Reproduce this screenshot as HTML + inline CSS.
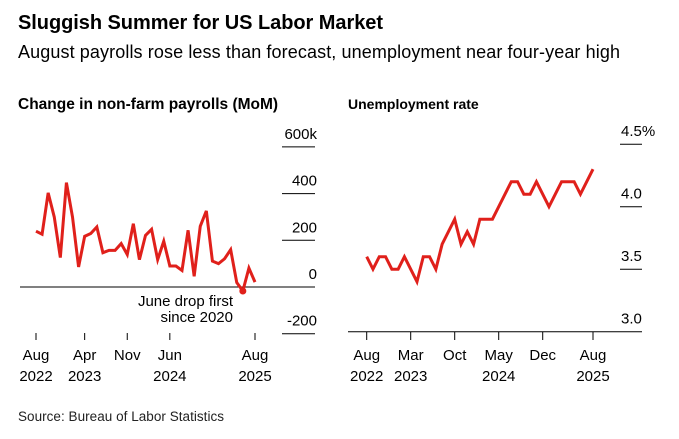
<!DOCTYPE html>
<html><head><meta charset="utf-8"><style>
body{margin:0;background:#fff;width:679px;height:434px;overflow:hidden;font-family:"Liberation Sans",Arial,sans-serif}
</style></head><body>
<svg width="679" height="434" style="font-family:'Liberation Sans',Arial,sans-serif">
<text x="18" y="29" font-size="20" font-weight="bold" fill="#000" textLength="365">Sluggish Summer for US Labor Market</text>
<text x="18" y="58" font-size="18" fill="#000" textLength="602">August payrolls rose less than forecast, unemployment near four-year high</text>
<text x="18" y="109" font-size="15.5" font-weight="bold">Change in non-farm payrolls (MoM)</text>
<text x="348" y="109" font-size="14" font-weight="bold">Unemployment rate</text>
<g id="left"></g>
<g id="right"></g>
<text x="18" y="421" font-size="13.5" fill="#222" textLength="206">Source: Bureau of Labor Statistics</text>
</svg>
<script>
const payrolls=[239,226,403,300,126,447,300,86,217,229,257,147,157,157,186,139,271,117,221,247,117,196,90,90,71,243,46,260,326,111,100,121,160,19,-17,81,21];
const payTicks=[600,400,200,0,-200];
const payTickLabels=["600k","400","200","0","-200"];
const payXIdx=[0,8,15,22,36];
const payXLabels=[["Aug","2022"],["Apr","2023"],["Nov",""],["Jun","2024"],["Aug","2025"]];
const unemp=[3.6,3.5,3.6,3.6,3.5,3.5,3.6,3.5,3.4,3.6,3.6,3.5,3.7,3.8,3.9,3.7,3.8,3.7,3.9,3.9,3.9,4.0,4.1,4.2,4.2,4.1,4.1,4.2,4.1,4.0,4.1,4.2,4.2,4.2,4.1,4.2,4.3];
const unTicks=[4.5,4.0,3.5,3.0];
const unTickLabels=["4.5%","4.0","3.5","3.0"];
const unXIdx=[0,7,14,21,28,36];
const unXLabels=[["Aug","2022"],["Mar","2023"],["Oct",""],["May","2024"],["Dec",""],["Aug","2025"]];
const NS="http://www.w3.org/2000/svg";
function mk(p,t,a){const e=document.createElementNS(NS,t);for(const k in a)e.setAttribute(k,a[k]);p.appendChild(e);return e;}
// left
const L=document.getElementById('left');
const lx=i=>36+i*(219/36), ly=v=>287-v*(46.7/200);
payTicks.forEach((t,i)=>{
 const g=mk(L,'line',{x1:282,x2:315,y1:ly(t),y2:ly(t),stroke:'#000','stroke-width':1});
 
 
 const tx=mk(L,'text',{x:317,y:ly(t)-8,'font-size':15,'text-anchor':'end'});tx.textContent=payTickLabels[i];
 
 
});
const zl=mk(L,'line',{x1:20,x2:282,y1:ly(0),y2:ly(0),stroke:'#000','stroke-width':1});


payXIdx.forEach((idx,i)=>{
 const x=lx(idx);
 const tk=mk(L,'line',{x1:x,x2:x,y1:333,y2:340,stroke:'#000'});
 
 
 const t1=mk(L,'text',{x:x,y:360,'font-size':15,'text-anchor':'middle'});t1.textContent=payXLabels[i][0];
 
 
 const t2=mk(L,'text',{x:x,y:381,'font-size':15,'text-anchor':'middle'});t2.textContent=payXLabels[i][1];
 
 
});
const lp=mk(L,'polyline',{points:payrolls.map((v,i)=>lx(i)+','+ly(v)).join(' '),fill:'none',stroke:'#e0201b','stroke-width':3,'stroke-linejoin':'miter'});


const dot=mk(L,'circle',{cx:lx(34),cy:ly(payrolls[34]),r:3.5,fill:'#e0201b'});


const a1=mk(L,'text',{x:233,y:306,'font-size':15,'text-anchor':'end'});a1.textContent='June drop first';


const a2=mk(L,'text',{x:233,y:322,'font-size':15,'text-anchor':'end'});a2.textContent='since 2020';


// right
const R=document.getElementById('right');
const rx=i=>366.7+i*(226.3/36), ry=v=>331.7-(v-3)*125;
unTicks.forEach((t,i)=>{
 if(t>3){const g=mk(R,'line',{x1:620,x2:642,y1:ry(t),y2:ry(t),stroke:'#000','stroke-width':1});
 
 }
 const tx=mk(R,'text',{x:621,y:ry(t)-8,'font-size':15});tx.textContent=unTickLabels[i];
 
 
});
const bl=mk(R,'line',{x1:348,x2:642,y1:ry(3),y2:ry(3),stroke:'#000'});


unXIdx.forEach((idx,i)=>{
 const x=rx(idx);
 const tk=mk(R,'line',{x1:x,x2:x,y1:332,y2:340,stroke:'#000'});
 
 
 const t1=mk(R,'text',{x:x,y:360,'font-size':15,'text-anchor':'middle'});t1.textContent=unXLabels[i][0];
 
 
 const t2=mk(R,'text',{x:x,y:381,'font-size':15,'text-anchor':'middle'});t2.textContent=unXLabels[i][1];
 
 
});
const rp=mk(R,'polyline',{points:unemp.map((v,i)=>rx(i)+','+ry(v)).join(' '),fill:'none',stroke:'#e0201b','stroke-width':3});


</script>
</body></html>
